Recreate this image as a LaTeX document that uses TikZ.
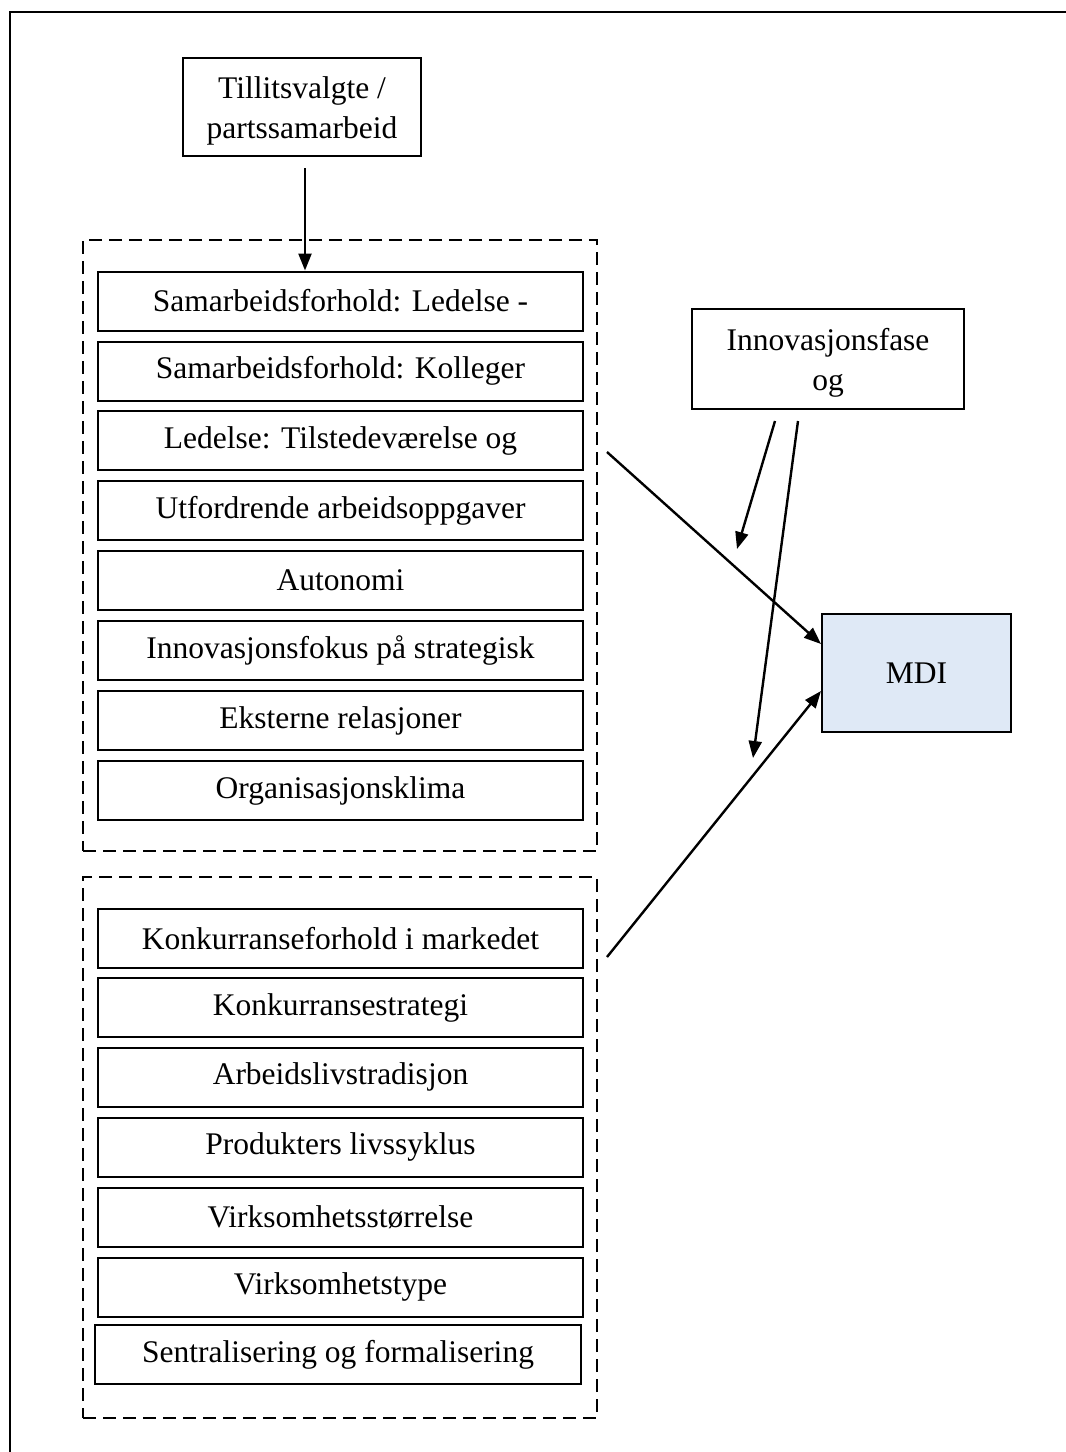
\documentclass[tikz,border=0pt]{standalone}
\usepackage{fontspec}
\setmainfont{Liberation Serif}
\usetikzlibrary{arrows.meta}
\definecolor{mdifill}{HTML}{DFE9F6}
\begin{document}
\begin{tikzpicture}[x=1pt,y=-1pt,
  txt/.style={font=\fontsize{31.5}{40}\selectfont, align=center, inner sep=0pt},
  itembox/.style={txt, draw, line width=2pt, minimum width=485pt, minimum height=59pt},
  topbox/.style={txt, draw, line width=2pt},
  group/.style={draw, line width=2pt, dash pattern=on 13pt off 7pt, inner sep=0pt},
  link/.style={line width=2.4pt, -{Triangle[length=17pt,width=13pt]}}]
\useasboundingbox (0,0) rectangle (1066,1452);

% open outer frame
\draw[line width=2.8pt] (1066,12) -- (10,12) -- (10,1452);

% source box at the top
\node[topbox, minimum width=238pt, minimum height=98pt,
  label={[txt, yshift=-4pt]center:{Tillitsvalgte /\\partssamarbeid}}] (tillit) at (302,107) {};

% first group of factors
\node[group, minimum width=514pt, minimum height=611pt] (g1) at (340,545.5) {};
\node[itembox] (a1) at (340.5,301) {Samarbeidsforhold: Ledelse -};
\node[itembox] (a2) at (340.5,371) {Samarbeidsforhold: Kolleger};
\node[itembox] (a3) at (340.5,440.5) {Ledelse: Tilstedeværelse og};
\node[itembox] (a4) at (340.5,510.5) {Utfordrende arbeidsoppgaver};
\node[itembox] (a5) at (340.5,580.5) {Autonomi};
\node[itembox] (a6) at (340.5,650.5) {Innovasjonsfokus på strategisk};
\node[itembox] (a7) at (340.5,720.5) {Eksterne relasjoner};
\node[itembox] (a8) at (340.5,790.5) {Organisasjonsklima};

% second group of factors
\node[group, minimum width=514pt, minimum height=541pt] (g2) at (340,1147.5) {};
\node[itembox] (b1) at (340.5,938.5) {Konkurranseforhold i markedet};
\node[itembox] (b2) at (340.5,1007.5) {Konkurransestrategi};
\node[itembox] (b3) at (340.5,1077) {Arbeidslivstradisjon};
\node[itembox] (b4) at (340.5,1147) {Produkters livssyklus};
\node[itembox] (b5) at (340.5,1217) {Virksomhetsstørrelse};
\node[itembox] (b6) at (340.5,1287) {Virksomhetstype};
\node[itembox, minimum width=486pt] (b7) at (338,1354.5) {Sentralisering og formalisering};

% moderator and outcome
\node[topbox, minimum width=272pt, minimum height=100pt,
  label={[txt, yshift=-4pt]center:{Innovasjonsfase\\og}}] (fase) at (828,359) {};
\node[topbox, fill=mdifill, minimum width=189pt, minimum height=118pt] (mdi) at (916.5,673) {MDI};

% connector end points
\coordinate (t0) at (305,168);
\coordinate (s1) at (607,452);
\coordinate (s2) at (607,957);
\coordinate (f1) at (775,421);
\coordinate (f1e) at (737,549);
\coordinate (f2) at (798,421);
\coordinate (f2e) at (753,758);
\coordinate (m1) at (821,644);
\coordinate (m2) at (821,691);

% connectors
\draw[link] (t0) -- (t0 |- a1.north);
\draw[link] (s1) -- (m1);
\draw[link] (s2) -- (m2);
\draw[link] (f1) -- (f1e);
\draw[link] (f2) -- (f2e);
\end{tikzpicture}
\end{document}
